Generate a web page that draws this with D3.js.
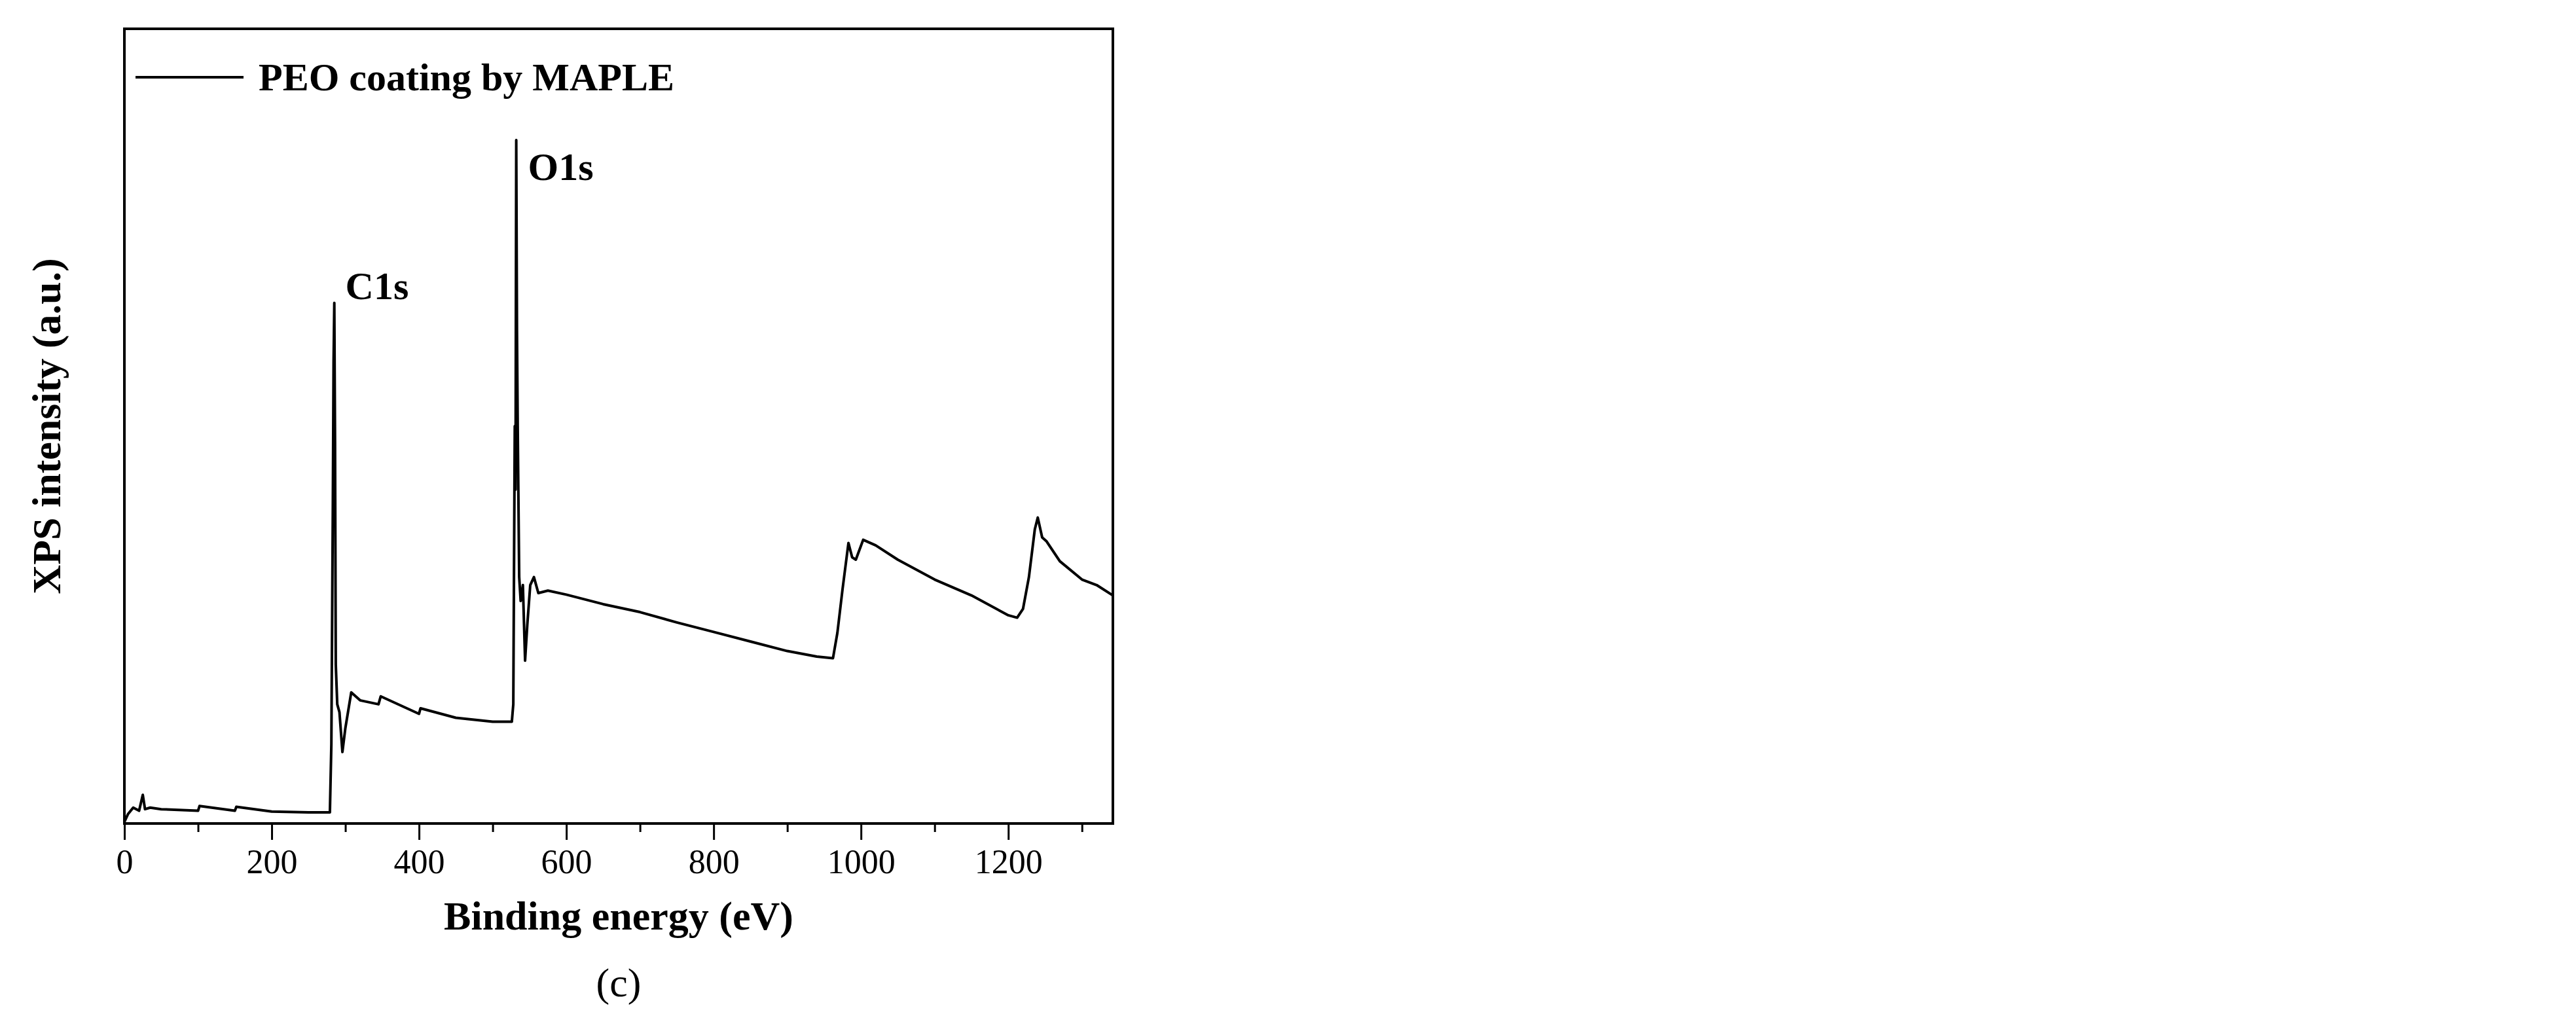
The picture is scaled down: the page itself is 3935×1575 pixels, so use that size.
<!DOCTYPE html>
<html><head><meta charset="utf-8">
<script src="https://cdn.jsdelivr.net/npm/d3@7"></script>
<style>body{margin:0;background:#fff}</style></head>
<body><div id="chart"></div>
<script>
// binding energy (eV) and intensity (a.u.)
const energy = [0, 5, 12, 20, 25, 28, 35, 50, 100, 102, 150, 152, 200, 250, 279, 281, 283, 284, 285, 286, 287, 289, 292, 296, 300, 308, 320, 345, 348, 400, 402, 450, 500, 526, 528, 530, 531, 532, 533, 534, 536, 538, 541, 544, 547, 551, 556, 562, 575, 600, 650, 700, 750, 800, 850, 900, 940, 962, 968, 975, 983, 988, 993, 1003, 1020, 1050, 1100, 1150, 1200, 1212, 1220, 1228, 1236, 1240, 1246, 1252, 1270, 1300, 1320, 1342];
const intensity = [0.2, 1.2, 2.0, 1.6, 3.6, 1.8, 2.0, 1.8, 1.6, 2.2, 1.6, 2.1, 1.5, 1.4, 1.4, 10, 40, 58, 65.5, 48, 20, 15, 14, 9, 12, 16.5, 15.5, 15, 16, 13.8, 14.5, 13.3, 12.8, 12.8, 15, 50, 42, 86, 62, 50, 31, 28, 30, 20.5, 25, 30, 31, 29, 29.3, 28.8, 27.6, 26.6, 25.3, 24.1, 22.9, 21.7, 21.0, 20.8, 24, 29.5, 35.3, 33.5, 33.2, 35.7, 35, 33.2, 30.7, 28.7, 26.2, 25.9, 27, 31, 37, 38.5, 36, 35.5, 33, 30.7, 30, 28.7];
const xTicks = [0, 200, 400, 600, 800, 1000, 1200];
const xMinor = [100, 300, 500, 700, 900, 1100, 1300];
const peaks = [{label: "C1s", e: 300, v: 66}, {label: "O1s", e: 548, v: 81}];

const W = 3935, H = 1575;
const mLeft = 190, mRight = 1700, mTop = 44, mBottom = 1258;
const font = "'Liberation Serif', serif";

const svg = d3.select("#chart").append("svg").attr("width", W).attr("height", H);

const x = d3.scaleLinear().domain([0, 1342]).range([mLeft, mRight]);
const y = d3.scaleLinear().domain([0, 100]).range([mBottom, mTop]);

// Frame
svg.append("rect")
  .attr("x", mLeft).attr("y", mTop)
  .attr("width", mRight - mLeft).attr("height", mBottom - mTop)
  .attr("fill", "none").attr("stroke", "#000").attr("stroke-width", 4);

// Bottom axis with minor ticks
const ax = svg.append("g").attr("transform", `translate(0,${mBottom})`)
  .call(d3.axisBottom(x).tickValues(xTicks).tickSize(25).tickPadding(14).tickFormat(d3.format("d")));
ax.select(".domain").remove();
ax.selectAll("line").attr("stroke-width", 3);
ax.selectAll("text").attr("font-family", font).attr("font-size", 52).attr("fill", "#000");
svg.append("g").attr("transform", `translate(0,${mBottom})`)
  .call(d3.axisBottom(x).tickValues(xMinor).tickSize(13).tickFormat(""))
  .call(g => g.select(".domain").remove())
  .selectAll("line").attr("stroke-width", 3);

// Spectrum
const line = d3.line().x((d, i) => x(energy[i])).y(d => y(d));
svg.append("path").datum(intensity)
  .attr("fill", "none").attr("stroke", "#000").attr("stroke-width", 4)
  .attr("stroke-linejoin", "round").attr("d", line);

// Peak labels
svg.selectAll(".peak").data(peaks).enter().append("text")
  .attr("x", d => x(d.e)).attr("y", d => y(d.v))
  .attr("font-family", font).attr("font-size", 60).attr("font-weight", "bold")
  .text(d => d.label);

// Legend
svg.append("line").attr("x1", 207).attr("x2", 372).attr("y1", 118).attr("y2", 118)
  .attr("stroke", "#000").attr("stroke-width", 4);
svg.append("text").attr("x", 395).attr("y", 138)
  .attr("font-family", font).attr("font-size", 60).attr("font-weight", "bold")
  .text("PEO coating by MAPLE");

// Axis titles
svg.append("text").attr("x", (mLeft + mRight) / 2).attr("y", 1420)
  .attr("text-anchor", "middle").attr("font-family", font).attr("font-size", 62).attr("font-weight", "bold")
  .text("Binding energy (eV)");
svg.append("text").attr("transform", `translate(92,${(mTop + mBottom) / 2}) rotate(-90)`)
  .attr("text-anchor", "middle").attr("font-family", font).attr("font-size", 62).attr("font-weight", "bold")
  .text("XPS intensity (a.u.)");
svg.append("text").attr("x", (mLeft + mRight) / 2).attr("y", 1522)
  .attr("text-anchor", "middle").attr("font-family", font).attr("font-size", 62)
  .text("(c)");
</script></body></html>
